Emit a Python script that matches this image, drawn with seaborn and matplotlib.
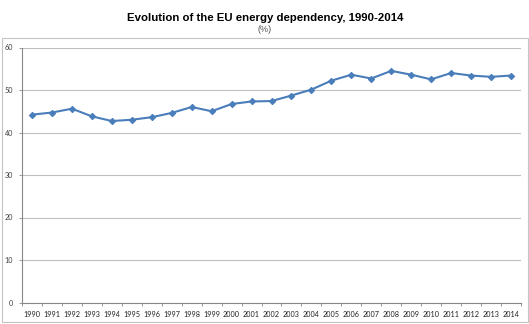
import matplotlib
matplotlib.use("Agg")
import matplotlib.pyplot as plt
import seaborn as sns
import pandas as pd
from matplotlib.patches import Rectangle
from matplotlib.ticker import FixedLocator

years = [str(y) for y in range(1990, 2015)]
dependency = [44.2, 44.7, 45.6, 43.8, 42.7, 43.0, 43.6, 44.6, 46.0, 45.0,
              46.7, 47.3, 47.4, 48.7, 50.1, 52.2, 53.6, 52.7, 54.5, 53.6,
              52.5, 54.0, 53.4, 53.1, 53.4]
y_ticks = [0, 10, 20, 30, 40, 50, 60]

sns.set_theme(style="white")
plt.rcParams['font.family'] = ['Lato', 'DejaVu Sans']

df = pd.DataFrame({"year": years, "value": dependency})

fig = plt.figure(figsize=(5.29, 3.24), dpi=100)
ax = fig.add_axes([22/529, 1-302.5/324, (521-22)/529, (302.5-47.5)/324])

sns.lineplot(data=df, x="year", y="value", ax=ax, color="#4A7EBB",
             linewidth=1.5, marker="D", markersize=3.2,
             markeredgecolor="#4A7EBB", markerfacecolor="#4A7EBB")

ax.set_xlim(-0.5, len(years) - 0.5)
ax.set_ylim(0, 60)
ax.set_yticks(y_ticks)
ax.set_yticklabels([str(t) for t in y_ticks], fontsize=5.2, color="#404040")
ax.set_xticks(range(len(years)))
ax.set_xticklabels(years, fontsize=5.2, color="#202020")
ax.xaxis.set_minor_locator(FixedLocator([i - 0.5 for i in range(len(years) + 1)]))
ax.tick_params(axis="x", which="major", length=0, pad=6)
ax.tick_params(axis="x", which="minor", length=2.5, width=0.6, color="#888888", bottom=True)
ax.tick_params(axis="y", which="major", length=2.5, width=0.6, color="#888888", left=True, pad=4)
ax.set_xlabel("")
ax.set_ylabel("")

ax.grid(axis="y", color="#bfbfbf", linewidth=0.8)
ax.set_axisbelow(True)
for s in ["top", "right"]:
    ax.spines[s].set_visible(False)
for s in ["left", "bottom"]:
    ax.spines[s].set_color("#888888")
    ax.spines[s].set_linewidth(0.8)

fig.text(265/529, 1-18/324, "Evolution of the EU energy dependency, 1990-2014",
         ha="center", va="center", fontsize=8.2, fontweight="bold",
         family=["Liberation Sans", "DejaVu Sans"], color="#000000")
fig.text(265/529, 1-30/324, "(%)", ha="center", va="center", fontsize=6.5,
         family=["Liberation Sans", "DejaVu Sans"], color="#555555")

fig.patches.append(Rectangle((1.5/529, 1-321.5/324), (527.5-1.5)/529, (321.5-38)/324,
                             transform=fig.transFigure, fill=False,
                             edgecolor="#c4c4c4", linewidth=0.8))

fig.savefig("out.png", dpi=100)
